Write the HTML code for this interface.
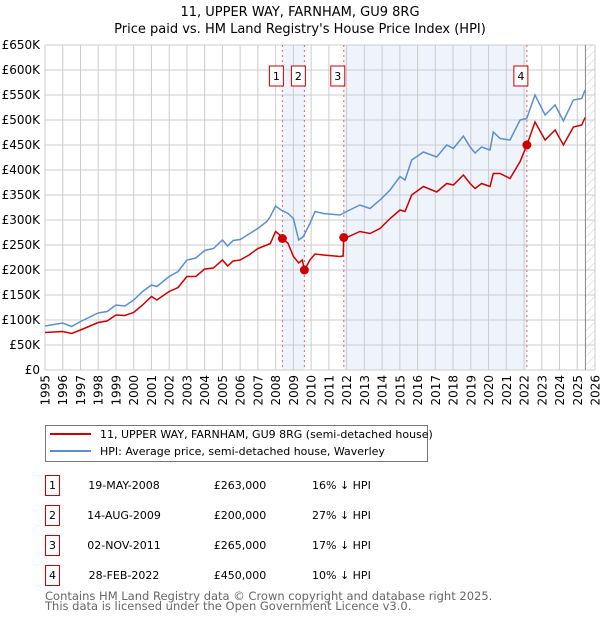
<!DOCTYPE html>
<html><head><meta charset="utf-8"><style>
body{margin:0;background:#fff;font-family:"DejaVu Sans","Liberation Sans",sans-serif;}
svg text{font-family:"DejaVu Sans","Liberation Sans",sans-serif;}
</style></head><body>
<svg id="chart" width="600" height="620" xmlns="http://www.w3.org/2000/svg">
<text x="300" y="16" text-anchor="middle" font-size="13">11, UPPER WAY, FARNHAM, GU9 8RG</text>
<text x="300" y="33" text-anchor="middle" font-size="13">Price paid vs. HM Land Registry's House Price Index (HPI)</text>
<defs><pattern id="hatch" width="6" height="6" patternUnits="userSpaceOnUse" patternTransform="rotate(45)"><line x1="0" y1="0" x2="0" y2="6" stroke="#ccc" stroke-width="1"/></pattern></defs>
<g id="bg"></g><g id="grid"></g><g id="marks"></g><g id="axes"></g>
<g>
<rect x="45.5" y="425.5" width="382" height="36" fill="#fff" stroke="#777"/>
<line x1="50" y1="434" x2="91" y2="434" stroke="#cc0000" stroke-width="2"/>
<text x="100" y="438" font-size="11">11, UPPER WAY, FARNHAM, GU9 8RG (semi-detached house)</text>
<line x1="50" y1="451" x2="91" y2="451" stroke="#5b8fd0" stroke-width="2"/>
<text x="100" y="455" font-size="11">HPI: Average price, semi-detached house, Waverley</text>
</g>
<g id="table"></g>
<text x="45" y="600" font-size="11.5" fill="#666">Contains HM Land Registry data © Crown copyright and database right 2025.</text>
<text x="45" y="610" font-size="11.5" fill="#666">This data is licensed under the Open Government Licence v3.0.</text>
</svg>
<script>
const yTicks=[0,50,100,150,200,250,300,350,400,450,500,550,600,650];
const yTickLabels=["£0","£50K","£100K","£150K","£200K","£250K","£300K","£350K","£400K","£450K","£500K","£550K","£600K","£650K"];
const xYears=[1995,1996,1997,1998,1999,2000,2001,2002,2003,2004,2005,2006,2007,2008,2009,2010,2011,2012,2013,2014,2015,2016,2017,2018,2019,2020,2021,2022,2023,2024,2025,2026];
const hpiDates=[1995,1996,1996.5,1997,1998,1998.5,1999,1999.5,2000,2000.5,2001,2001.3,2002,2002.5,2003,2003.5,2004,2004.5,2005,2005.3,2005.6,2006,2006.5,2007,2007.5,2007.7,2008,2008.3,2008.7,2009,2009.3,2009.56,2009.93,2010.22,2010.69,2011.63,2012.0,2012.75,2013.32,2013.88,2014.45,2015.01,2015.29,2015.67,2016.33,2017.08,2017.64,2018.02,2018.58,2018.96,2019.24,2019.61,2020.08,2020.27,2020.65,2021.21,2021.78,2022.15,2022.62,2023.19,2023.75,2024.22,2024.78,2025.25,2025.44];
const hpiValues=[88,94,87,97,114,117,130,128,140,157,170,167,187,197,220,224,239,243,260,248,259,261,272,283,297,307,328,320,313,303,260,267,293,317,313,310,317,330,323,340,360,387,380,420,436,426,450,443,468,446,434,446,440,476,463,460,500,503,550,510,530,498,540,543,560];
const propDates=[1995,1996,1996.5,1997,1998,1998.5,1999,1999.5,2000,2000.5,2001,2001.3,2002,2002.5,2003,2003.5,2004,2004.5,2005,2005.3,2005.6,2006,2006.5,2007,2007.5,2007.7,2008,2008.3,2008.38,2008.7,2009,2009.3,2009.5,2009.62,2009.93,2010.22,2010.69,2011.63,2011.8,2011.84,2012.0,2012.75,2013.32,2013.88,2014.45,2015.01,2015.29,2015.67,2016.33,2017.08,2017.64,2018.02,2018.58,2018.96,2019.24,2019.61,2020.08,2020.27,2020.65,2021.21,2021.78,2022.16,2022.62,2023.19,2023.75,2024.22,2024.78,2025.25,2025.44];
const propValues=[75,77,73,80,95,98,110,109,115,130,147,140,157,165,187,187,202,204,220,208,218,220,230,243,250,253,277,268,263,253,227,214,220,200,220,232,230,227,228,265,265,277,273,283,303,320,317,350,367,356,373,370,390,373,363,373,367,393,393,383,417,450,496,460,480,450,486,490,505];
const saleDates=[2008.38,2009.62,2011.84,2022.16];
const saleValues=[263,200,265,450];
const saleLabels=["1","2","3","4"];
const saleDateText=["19-MAY-2008","14-AUG-2009","02-NOV-2011","28-FEB-2022"];
const salePriceText=["£263,000","£200,000","£265,000","£450,000"];
const saleHpiText=["16% ↓ HPI","27% ↓ HPI","17% ↓ HPI","10% ↓ HPI"];
const L=45,R=595,T=45,B=370,X0=1995,X1=2026,Y1=650,HATCH=2025.46;
const sx=y=>L+(y-X0)/(X1-X0)*(R-L);
const sy=v=>B-v/Y1*(B-T);
const NS="http://www.w3.org/2000/svg";
function mk(tag,attrs,parent){const e=document.createElementNS(NS,tag);for(const k in attrs)e.setAttribute(k,attrs[k]);parent.appendChild(e);return e;}
const bg=document.getElementById('bg'),grid=document.getElementById('grid'),marks=document.getElementById('marks'),axes=document.getElementById('axes'),table=document.getElementById('table');
let r=mk('rect',{x:sx(saleDates[0]),y:T,width:sx(saleDates[1])-sx(saleDates[0]),height:B-T,fill:'#eef3fc'},bg);


r=mk('rect',{x:sx(saleDates[2]),y:T,width:sx(saleDates[3])-sx(saleDates[2]),height:B-T,fill:'#eef3fc'},bg);


r=mk('rect',{x:sx(HATCH),y:T,width:R-sx(HATCH),height:B-T,fill:'url(#hatch)'},bg);


yTicks.forEach((v,i)=>{
 mk('line',{x1:L,x2:R,y1:sy(v),y2:sy(v),stroke:'#ccc','stroke-width':1},grid);
 const t=mk('text',{x:40,y:sy(v)+4,'text-anchor':'end','font-size':12},axes);t.textContent=yTickLabels[i];
 
 
});
xYears.forEach(y=>{
 mk('line',{x1:sx(y),x2:sx(y),y1:T,y2:B,stroke:'#ccc','stroke-width':1},grid);
 const x=sx(y)+4.5;
 const t=mk('text',{x:x,y:375,'text-anchor':'end','font-size':12,transform:'rotate(-90 '+x+' 375)'},axes);t.textContent=y;
 
 
});
const hl=mk('line',{x1:sx(HATCH),x2:sx(HATCH),y1:T,y2:B,stroke:'#888','stroke-width':1},grid);


saleDates.forEach((d,i)=>{
 const l=mk('line',{x1:sx(d),x2:sx(d),y1:T,y2:B,stroke:'#e06666','stroke-width':1,'stroke-dasharray':'2,3'},grid);
 
 
});
const hp=mk('path',{d:hpiDates.map((d,i)=>(i?'L':'M')+sx(d).toFixed(1)+','+sy(hpiValues[i]).toFixed(1)).join(''),fill:'none',stroke:'#5b8fd0','stroke-width':1.5},marks);


const pp=mk('path',{d:propDates.map((d,i)=>(i?'L':'M')+sx(d).toFixed(1)+','+sy(propValues[i]).toFixed(1)).join(''),fill:'none',stroke:'#cc0000','stroke-width':1.5},marks);


saleDates.forEach((d,i)=>{
 const c=mk('circle',{cx:sx(d),cy:sy(saleValues[i]),r:4.5,fill:'#cc0000'},marks);
 
 
 const g=mk('g',{},marks);
 
 
 mk('rect',{x:sx(d)-13,y:66,width:14,height:20,fill:'#fff',stroke:'#cc0000'},g);
 const t=mk('text',{x:sx(d)-6,y:80,'text-anchor':'middle','font-size':11},g);t.textContent=saleLabels[i];
 const row=mk('g',{},table);
 
 
 const ty=475+i*30;
 mk('rect',{x:45.5,y:ty+0.5,width:14,height:20,fill:'#fff',stroke:'#cc0000'},row);
 let tt=mk('text',{x:52.5,y:ty+14,'text-anchor':'middle','font-size':11},row);tt.textContent=saleLabels[i];
 tt=mk('text',{x:124,y:ty+14,'text-anchor':'middle','font-size':11},row);tt.textContent=saleDateText[i];
 tt=mk('text',{x:240,y:ty+14,'text-anchor':'middle','font-size':11},row);tt.textContent=salePriceText[i];
 tt=mk('text',{x:312,y:ty+14,'font-size':11},row);tt.textContent=saleHpiText[i];
});
</script>
</body></html>
